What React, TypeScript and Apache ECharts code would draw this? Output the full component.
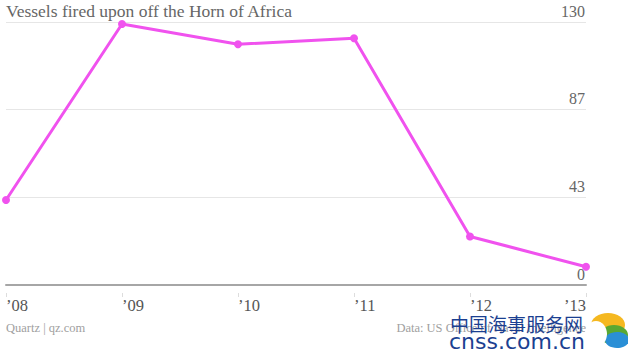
import React, { useEffect, useRef } from "react";
import * as echarts from "echarts";

const categories = ["’08", "’09", "’10", "’11", "’12", "’13"];
const vessels = [42, 129, 119, 122, 24, 9];
const yMax = 130;
const title = "Vessels fired upon off the Horn of Africa";
const sourceLeft = "Quartz | qz.com";
const sourceRight = "Data: US Office of Naval Intelligence";

export default function App() {
  const ref = useRef<HTMLDivElement>(null);
  useEffect(() => {
    const chart = echarts.init(ref.current!, null, { renderer: "svg" });
    const font = "'Liberation Serif', 'DejaVu Serif', serif";
    const catData = categories.map((c, i) =>
      i === categories.length - 1 ? { value: c, textStyle: { align: "right" } } : c
    );
    chart.setOption({
      animation: false,
      backgroundColor: "#ffffff",
      grid: { left: 6, right: 42, top: 22, bottom: 67 },
      xAxis: [
        {
          type: "category",
          data: catData,
          boundaryGap: false,
          axisLine: { lineStyle: { color: "#a6a6a6", width: 2 } },
          axisTick: { show: false },
          axisLabel: {
            align: "left",
            margin: 12,
            color: "#555",
            fontSize: 16.5,
            fontFamily: font,
          },
        },
        {
          type: "category",
          data: categories,
          boundaryGap: false,
          position: "bottom",
          offset: 8,
          axisLine: { show: false },
          axisTick: { show: true, length: 4, lineStyle: { color: "#dddddd" } },
          axisLabel: { show: false },
        },
      ],
      yAxis: {
        type: "value",
        position: "right",
        min: 0,
        max: yMax,
        interval: yMax / 3,
        axisLine: { show: false },
        axisTick: { show: false },
        splitLine: { lineStyle: { color: "#e6e6e6", width: 1 } },
        axisLabel: {
          inside: true,
          margin: 1,
          verticalAlign: "bottom",
          padding: [0, 0, 3, 0],
          color: "#666",
          fontSize: 16,
          fontFamily: font,
          formatter: (v: number) => String(Math.round(v)),
        },
      },
      series: [
        {
          type: "line",
          data: vessels,
          color: "#f052ee",
          lineStyle: { width: 3, color: "#f052ee" },
          symbol: "circle",
          symbolSize: 8,
          itemStyle: { color: "#f052ee" },
          z: 5,
        },
      ],
      graphic: [
        {
          type: "text",
          left: 6,
          top: 2,
          style: { text: title, fill: "#666", fontSize: 17.5, fontFamily: font },
        },
        {
          type: "text",
          left: 6,
          top: 321,
          style: { text: sourceLeft, fill: "#a0a0a0", fontSize: 12.5, fontFamily: font },
        },
        {
          type: "text",
          right: 42,
          top: 321,
          style: { text: sourceRight, fill: "#a0a0a0", fontSize: 12.5, fontFamily: font },
        },
        {
          type: "text",
          left: 450,
          top: 314,
          style: {
            text: "中国海事服务网",
            fill: "#1b3f91",
            fontSize: 19,
            fontFamily: "'Noto Sans CJK SC', sans-serif",
          },
        },
        {
          type: "text",
          left: 449,
          top: 330,
          style: {
            text: "cnss.com.cn",
            fill: "#1b3f91",
            fontSize: 22,
            fontFamily: "'DejaVu Sans', sans-serif",
          },
        },
        {
          type: "ellipse",
          shape: { cx: 608, cy: 325, rx: 17, ry: 12 },
          style: { fill: "#f5b820" },
        },
        {
          type: "ellipse",
          shape: { cx: 614, cy: 335, rx: 14, ry: 10 },
          style: { fill: "#5aa832" },
        },
        {
          type: "ellipse",
          shape: { cx: 617, cy: 340, rx: 12, ry: 8 },
          style: { fill: "#2a8fd6" },
        },
        {
          type: "ellipse",
          shape: { cx: 596, cy: 334, rx: 11, ry: 13 },
          style: { fill: "#ffffff" },
        },
      ],
    });
    return () => chart.dispose();
  }, []);
  return <div ref={ref} style={{ width: 628, height: 352, position: "absolute", left: 0, top: 0 }} />;
}
